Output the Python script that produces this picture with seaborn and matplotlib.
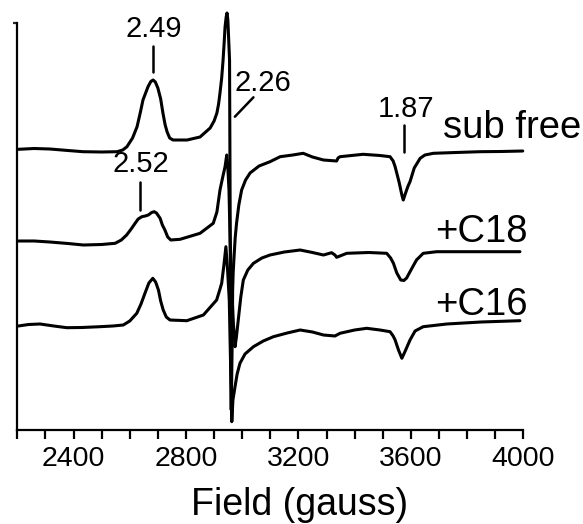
import numpy as np
import pandas as pd
import matplotlib
matplotlib.use("Agg")
import matplotlib.pyplot as plt
import seaborn as sns

sns.set_theme(style="white")
plt.rcParams['font.family'] = ['Liberation Sans', 'DejaVu Sans']

# ---- data (field in gauss, intensity in arbitrary units incl. vertical offset) ----
subfree_field = [2204, 2260, 2316, 2380, 2434, 2500, 2555, 2575, 2590, 2610, 2626, 2638,
                 2647, 2665, 2675, 2683, 2691, 2700, 2710, 2718, 2726, 2733, 2742, 2754,
                 2804, 2850, 2886, 2900, 2910, 2916, 2921, 2927, 2932, 2936, 2939, 2943,
                 2946, 2949, 2955, 2957, 2958.5, 2961, 2965, 2966, 2968, 2971, 2975, 2980,
                 2988, 2998, 3012, 3028, 3060, 3099, 3135, 3180, 3217, 3250, 3289, 3336,
                 3341, 3348, 3430, 3490, 3526, 3537, 3544, 3558, 3568, 3573, 3580, 3590,
                 3597, 3612, 3633, 3650, 3680, 3760, 3846, 3920, 3998]
subfree_int = [280.7, 281.5, 281, 279.5, 278.3, 278, 278.3, 280, 283.3, 292, 303.3, 318,
               330, 343.3, 348.5, 350, 348, 342, 331, 317, 305, 298, 292, 290,
               290, 293, 302, 309, 317, 326, 337, 352, 370, 388, 403, 413,
               417, 410, 370, 230, 80, 20, 100, 140, 158, 173, 192, 207,
               225, 240, 250, 257, 264, 268.3, 273.3, 275, 276.7, 273, 270, 269,
               272, 273.3, 275.7, 274.5, 273.3, 269, 263.3, 248, 235, 230, 236, 244,
               248.3, 262, 271.7, 275, 276.7, 277.5, 278.3, 278.5, 279]

c18_field = [2204, 2260, 2316, 2380, 2435, 2500, 2548, 2570, 2589, 2605, 2619, 2630,
             2643, 2655, 2666, 2678, 2687, 2695, 2708, 2716, 2725, 2735, 2746, 2779,
             2850, 2897, 2910, 2921, 2930, 2939, 2945, 2949, 2953, 2957, 2963, 2969,
             2974.5, 2979, 2986, 2995, 3004, 3020, 3040, 3070, 3099, 3150, 3206, 3250,
             3289, 3318, 3330, 3336, 3372, 3450, 3514, 3528, 3538, 3550, 3564, 3575,
             3585, 3597, 3620, 3644, 3692, 3800, 3988]
c18_int = [189, 189, 188, 186.5, 185, 185.5, 186.7, 190, 195, 201, 206.7, 211,
           213.3, 214, 215, 217.5, 218.3, 217, 211.7, 205, 200, 193, 190, 190.7,
           196.7, 206.7, 218, 240, 252, 263.3, 275, 262, 240, 190, 140, 105,
           83.3, 92, 110, 133, 150, 160, 166.7, 172, 175, 178, 180, 177.5,
           175, 177.3, 175, 172.7, 176.7, 177.5, 176.7, 172, 166.7, 157, 150, 149.5,
           152, 158.3, 170, 176.7, 178.3, 178.3, 178.3]

c16_field = [2204, 2240, 2281, 2330, 2376, 2430, 2494, 2540, 2577, 2600, 2625, 2640,
             2654, 2668, 2682, 2692, 2702, 2710, 2719, 2730, 2743, 2803, 2862, 2909,
             2920, 2927, 2935, 2942, 2948, 2954, 2958, 2963, 2967, 2974.5, 2982, 2992,
             3010, 3040, 3075, 3111, 3160, 3206, 3250, 3289, 3330, 3348, 3400, 3443,
             3490, 3526, 3537, 3544, 3556, 3568, 3580, 3597, 3615, 3644, 3728, 3850, 3988]
c16_int = [104, 105.5, 106, 104, 102.3, 102.5, 103.3, 104, 105, 109, 116.7, 126,
           136.7, 147, 151.7, 148, 140, 129, 120, 113, 110, 109.3, 115, 130,
           140, 146.7, 165, 183.3, 160, 130, 75, 8.3, 30, 43.3, 56, 66.7,
           76, 83.3, 89, 93.3, 97, 100, 98, 95, 94, 96.7, 100, 101.7,
           100, 98.3, 94, 90, 80, 71.7, 79, 90, 99, 103.3, 106, 108, 109.3]

series_names = ["sub free", "+C18", "+C16"]

frames = []
for name, f, y in [("sub free", subfree_field, subfree_int),
                   ("+C18", c18_field, c18_int),
                   ("+C16", c16_field, c16_int)]:
    frames.append(pd.DataFrame({"field": f, "intensity": y, "sample": name}))
df = pd.concat(frames, ignore_index=True)

fig = plt.figure(figsize=(5.83, 5.24), dpi=100)
ax = fig.add_axes([0.0297, 0.1794, 0.8679, 0.7767])

for name in series_names:
    sub = df[df["sample"] == name]
    sns.lineplot(data=sub, x="field", y="intensity", ax=ax, color="black",
                 linewidth=2.2, sort=False, estimator=None, clip_on=False)

ax.set_xlim(2200, 4000)
ax.set_ylim(0, 407)

# annotations
txt_kw = dict(color="black", fontsize=21, ha="center", va="center")
ax.text(2686, 401, "2.49", **txt_kw)
ax.plot([2683, 2683], [384, 358], color="black", lw=1.8, clip_on=False)
ax.text(3072, 347.5, "2.26", **txt_kw)
ax.plot([3040, 2974], [332.7, 313.3], color="black", lw=1.8)
ax.text(2640, 266, "2.52", **txt_kw)
ax.plot([2636.5, 2636.5], [248.3, 220], color="black", lw=1.8)
ax.text(3583, 321, "1.87", **txt_kw)
ax.plot([3577, 3577], [305, 278], color="black", lw=1.8)

lab_kw = dict(color="black", fontsize=27.5, ha="left", va="baseline")
ax.text(3714, 292, "sub free", clip_on=False, **lab_kw)
ax.text(3686, 188.3, "+C18", clip_on=False, **lab_kw)
ax.text(3686, 115, "+C16", clip_on=False, **lab_kw)

# axes styling
for s in ["top", "right"]:
    ax.spines[s].set_visible(False)
for s in ["left", "bottom"]:
    ax.spines[s].set_color("black")
    ax.spines[s].set_linewidth(1.6)

ax.set_xticks([2400, 2800, 3200, 3600, 4000])
ax.set_xticks(np.arange(2200, 4001, 100), minor=True)
ax.set_yticks([407])
ax.set_yticklabels([""])
ax.tick_params(axis="x", which="both", direction="out", length=6.5, width=1.6,
               colors="black", labelsize=20.5, pad=5, bottom=True)
ax.tick_params(axis="y", which="major", direction="out", length=3, width=1.6,
               left=True, labelleft=False)
ax.set_ylabel("")
ax.set_xlabel("Field (gauss)", fontsize=27, color="black")
ax.xaxis.set_label_coords(0.557, -0.14)

fig.savefig("out.png", dpi=100)
